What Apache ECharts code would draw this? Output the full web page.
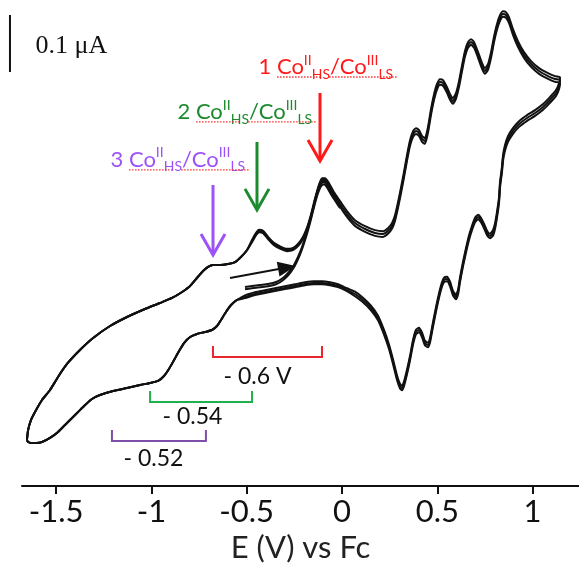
<!DOCTYPE html>
<html><head><meta charset="utf-8">
<script src="https://cdn.jsdelivr.net/npm/echarts@6/dist/echarts.min.js"></script>
<style>html,body{margin:0;padding:0;background:#fff}#c{width:579px;height:569px}</style>
</head><body><div id="c"></div>
<script>
// ---- x axis ticks ----
const tickValues = [-1.5, -1, -0.5, 0, 0.5, 1];

// ---- CV sweep: potentials (V vs Fc) ----
const forwardE = [-1.653,-1.647,-1.632,-1.605,-1.574,-1.532,-1.490,-1.443,-1.375,-1.306,-1.217,-1.128,-1.034,-0.955,-0.892,-0.839,-0.797,-0.761,-0.729,-0.703,-0.677,-0.640,-0.598,-0.561,-0.530,-0.498,-0.472,-0.451,-0.435,-0.414,-0.388,-0.357,-0.320,-0.289,-0.257,-0.231,-0.205,-0.184,-0.163,-0.142,-0.121,-0.105,-0.089,-0.068,-0.042,-0.010,0.026,0.068,0.121,0.173,0.215,0.241,0.262,0.278,0.294,0.310,0.325,0.341,0.357,0.373,0.388,0.404,0.420,0.435,0.451,0.467,0.483,0.498,0.514,0.530,0.551,0.567,0.582,0.598,0.614,0.630,0.645,0.661,0.677,0.693,0.714,0.735,0.750,0.766,0.782,0.797,0.813,0.829,0.845,0.860,0.876,0.897,0.923,0.955,0.992,1.034,1.081,1.118,1.144];
const reverseE = [1.139,1.123,1.091,1.055,1.013,0.971,0.929,0.897,0.871,0.855,0.845,0.839,0.829,0.824,0.813,0.803,0.792,0.776,0.761,0.745,0.729,0.714,0.698,0.682,0.666,0.651,0.635,0.619,0.609,0.598,0.582,0.567,0.551,0.535,0.519,0.498,0.477,0.462,0.451,0.435,0.420,0.404,0.388,0.373,0.357,0.341,0.325,0.315,0.304,0.289,0.268,0.247,0.220,0.189,0.152,0.110,0.068,0.026,-0.021,-0.063,-0.105,-0.147,-0.194,-0.247,-0.299,-0.352,-0.404,-0.456,-0.509,-0.551,-0.582,-0.609,-0.635,-0.656,-0.682,-0.719,-0.761,-0.797,-0.829,-0.855,-0.881,-0.908,-0.934,-0.965,-1.007,-1.060,-1.128,-1.201,-1.270,-1.312,-1.348,-1.390,-1.443,-1.490,-1.532,-1.574,-1.605,-1.632,-1.647,-1.653];

// ---- currents (uA, arbitrary zero) for the three cycles ----
const forwardI1 = [-0.2632,-0.2456,-0.2281,-0.2105,-0.1930,-0.1754,-0.1526,-0.1298,-0.1053,-0.0842,-0.0632,-0.0474,-0.0333,-0.0228,-0.0140,-0.0035,0.0070,0.0211,0.0333,0.0404,0.0439,0.0439,0.0456,0.0491,0.0579,0.0702,0.0880,0.1002,0.1055,0.1038,0.0932,0.0827,0.0757,0.0722,0.0739,0.0809,0.0932,0.1090,0.1318,0.1599,0.1845,0.1960,0.1960,0.1872,0.1714,0.1559,0.1383,0.1225,0.1120,0.1050,0.1032,0.1085,0.1173,0.1313,0.1541,0.1804,0.2068,0.2366,0.2629,0.2787,0.2839,0.2804,0.2699,0.2664,0.2857,0.3173,0.3436,0.3611,0.3699,0.3682,0.3559,0.3436,0.3366,0.3454,0.3664,0.3945,0.4190,0.4348,0.4401,0.4348,0.4173,0.3980,0.3892,0.3962,0.4173,0.4436,0.4664,0.4822,0.4892,0.4875,0.4787,0.4576,0.4366,0.4173,0.4015,0.3892,0.3804,0.3752,0.3734];
const forwardI2 = [-0.2632,-0.2456,-0.2281,-0.2105,-0.1930,-0.1754,-0.1526,-0.1298,-0.1053,-0.0842,-0.0632,-0.0474,-0.0333,-0.0228,-0.0140,-0.0035,0.0070,0.0211,0.0333,0.0404,0.0439,0.0439,0.0456,0.0491,0.0579,0.0702,0.0860,0.0982,0.1035,0.1018,0.0912,0.0807,0.0737,0.0702,0.0719,0.0789,0.0912,0.1070,0.1298,0.1579,0.1825,0.1930,0.1930,0.1842,0.1684,0.1509,0.1333,0.1175,0.1070,0.1000,0.0982,0.1035,0.1123,0.1263,0.1491,0.1754,0.2018,0.2316,0.2579,0.2737,0.2789,0.2754,0.2649,0.2614,0.2807,0.3123,0.3386,0.3561,0.3649,0.3632,0.3509,0.3386,0.3316,0.3404,0.3614,0.3895,0.4140,0.4298,0.4351,0.4298,0.4123,0.3930,0.3842,0.3912,0.4123,0.4386,0.4614,0.4772,0.4842,0.4825,0.4737,0.4526,0.4316,0.4123,0.3965,0.3842,0.3754,0.3702,0.3684];
const forwardI3 = [-0.2632,-0.2456,-0.2281,-0.2105,-0.1930,-0.1754,-0.1526,-0.1298,-0.1053,-0.0842,-0.0632,-0.0474,-0.0333,-0.0228,-0.0140,-0.0035,0.0070,0.0211,0.0333,0.0404,0.0439,0.0439,0.0456,0.0491,0.0579,0.0702,0.0840,0.0962,0.1015,0.0998,0.0892,0.0787,0.0717,0.0682,0.0699,0.0769,0.0892,0.1050,0.1278,0.1559,0.1805,0.1910,0.1910,0.1822,0.1664,0.1459,0.1283,0.1125,0.1020,0.0950,0.0932,0.0985,0.1073,0.1213,0.1441,0.1704,0.1968,0.2266,0.2529,0.2687,0.2739,0.2704,0.2599,0.2564,0.2757,0.3073,0.3336,0.3511,0.3599,0.3582,0.3459,0.3336,0.3266,0.3354,0.3564,0.3845,0.4090,0.4248,0.4301,0.4248,0.4073,0.3880,0.3792,0.3862,0.4073,0.4336,0.4564,0.4722,0.4792,0.4775,0.4687,0.4476,0.4266,0.4073,0.3915,0.3792,0.3704,0.3652,0.3634];
const reverseI1 = [0.3629,0.3506,0.3383,0.3261,0.3155,0.3068,0.2962,0.2839,0.2699,0.2541,0.2366,0.2155,0.1892,0.1629,0.1366,0.1173,0.1050,0.0987,0.1040,0.1163,0.1268,0.1321,0.1268,0.1128,0.0952,0.0742,0.0496,0.0215,0.0005,-0.0083,-0.0013,0.0145,0.0233,0.0215,0.0075,-0.0223,-0.0574,-0.0837,-0.0925,-0.0890,-0.0749,-0.0662,-0.0697,-0.0872,-0.1153,-0.1399,-0.1609,-0.1679,-0.1644,-0.1504,-0.1223,-0.0960,-0.0697,-0.0451,-0.0276,-0.0135,-0.0030,0.0030,0.0100,0.0135,0.0153,0.0153,0.0135,0.0100,0.0065,0.0030,-0.0005,-0.0040,-0.0093,-0.0175,-0.0263,-0.0386,-0.0526,-0.0632,-0.0702,-0.0737,-0.0772,-0.0825,-0.0930,-0.1070,-0.1228,-0.1386,-0.1509,-0.1596,-0.1632,-0.1667,-0.1719,-0.1772,-0.1842,-0.1912,-0.2018,-0.2158,-0.2333,-0.2491,-0.2596,-0.2667,-0.2684,-0.2684,-0.2667,-0.2632];
const reverseI2 = [0.3579,0.3456,0.3333,0.3211,0.3105,0.3018,0.2912,0.2789,0.2649,0.2491,0.2316,0.2105,0.1842,0.1579,0.1316,0.1123,0.1000,0.0947,0.1000,0.1123,0.1228,0.1281,0.1228,0.1088,0.0912,0.0702,0.0456,0.0175,-0.0035,-0.0123,-0.0053,0.0105,0.0193,0.0175,0.0035,-0.0263,-0.0614,-0.0877,-0.0965,-0.0930,-0.0789,-0.0702,-0.0737,-0.0912,-0.1193,-0.1439,-0.1649,-0.1719,-0.1684,-0.1544,-0.1263,-0.1000,-0.0737,-0.0491,-0.0316,-0.0175,-0.0070,0,0.0070,0.0105,0.0123,0.0123,0.0105,0.0070,0.0035,0,-0.0035,-0.0070,-0.0123,-0.0175,-0.0263,-0.0386,-0.0526,-0.0632,-0.0702,-0.0737,-0.0772,-0.0825,-0.0930,-0.1070,-0.1228,-0.1386,-0.1509,-0.1596,-0.1632,-0.1667,-0.1719,-0.1772,-0.1842,-0.1912,-0.2018,-0.2158,-0.2333,-0.2491,-0.2596,-0.2667,-0.2684,-0.2684,-0.2667,-0.2632];
const reverseI3 = [0.3529,0.3406,0.3283,0.3161,0.3055,0.2968,0.2862,0.2739,0.2599,0.2441,0.2266,0.2055,0.1792,0.1529,0.1266,0.1073,0.0950,0.0907,0.0960,0.1083,0.1188,0.1241,0.1188,0.1048,0.0872,0.0662,0.0416,0.0135,-0.0075,-0.0163,-0.0093,0.0065,0.0153,0.0135,-0.0005,-0.0303,-0.0654,-0.0917,-0.1005,-0.0970,-0.0829,-0.0742,-0.0777,-0.0952,-0.1233,-0.1479,-0.1689,-0.1759,-0.1724,-0.1584,-0.1303,-0.1040,-0.0777,-0.0531,-0.0356,-0.0215,-0.0110,-0.0020,0.0050,0.0085,0.0103,0.0103,0.0085,0.0050,0.0015,-0.0020,-0.0055,-0.0090,-0.0143,-0.0175,-0.0263,-0.0386,-0.0526,-0.0632,-0.0702,-0.0737,-0.0772,-0.0825,-0.0930,-0.1070,-0.1228,-0.1386,-0.1509,-0.1596,-0.1632,-0.1667,-0.1719,-0.1772,-0.1842,-0.1912,-0.2018,-0.2158,-0.2333,-0.2491,-0.2596,-0.2667,-0.2684,-0.2684,-0.2667,-0.2632];

// ---- initial sweep from the rest potential ----
const startE  = [-0.509,-0.472,-0.430,-0.388,-0.346,-0.310,-0.278,-0.252,-0.231,-0.210,-0.189,-0.168,-0.147,-0.126,-0.110,-0.094,-0.079,-0.058,-0.031,-0.010];
const startIa = [0.0053,0.0070,0.0088,0.0105,0.0140,0.0211,0.0316,0.0439,0.0579,0.0754,0.0965,0.1211,0.1491,0.1737,0.1860,0.1895,0.1842,0.1719,0.1579,0.1474];
const startIb = [0.0013,0.0030,0.0048,0.0065,0.0100,0.0171,0.0276,0.0399,0.0539,0.0714,0.0925,0.1171,0.1451,0.1697,0.1820,0.1855,0.1802,0.1679,0.1539,0.1434];

// ---- scan-direction arrow ----
const scanArrowE = [-0.5876, -0.2886];
const scanArrowI = [0.0211, 0.0393];

// ---- redox couple annotations ----
const coupleNumbers = ['1', '2', '3'];
const coupleColors = ['#ff1a1a', '#1c8a2e', '#9d52f7'];
const coupleArrowE = [-0.1154, -0.4460, -0.6768];
const coupleArrowTop = [0.3456, 0.2596, 0.1842];
const coupleArrowTip = [0.2263, 0.1404, 0.0614];
const coupleLabelE = [-0.4407, -0.8657, -1.2172];
const coupleLabelI = [0.3912, 0.3123, 0.2281];
// spell-check squiggles under the two "Co" words of each label (offsets from label start)
const squiggleSpans = [[0.100, 0.325], [0.373, 0.729]];
const squiggleDrop = 0.0175;

// ---- peak separations ----
const splitLabels = ['- 0.6 V', '- 0.54', '- 0.52'];
const splitColors = ['#e8262d', '#22b04c', '#7d4fa8'];
const splitFrom = [-0.677, -1.007, -1.207];
const splitTo = [-0.105, -0.472, -0.714];
const splitLevel = [-0.1175, -0.1965, -0.2649];
const splitTop = [-0.0982, -0.1772, -0.2456];
const splitLabelE = [-0.624, -0.944, -1.149];
const splitLabelI = [-0.1526, -0.2228, -0.2965];

// ---- current scale bar (0.1 uA) ----
const scaleBarE = -1.742;
const scaleBarI = [0.3825, 0.4825];
const scaleBarLabel = '0.1 μA';
const scaleLabelPos = [-1.6107, 0.4281];

const zip = (E, I) => E.map((e, i) => [e, I[i]]);
const cycles = [
  zip(forwardE, forwardI1).concat(zip(reverseE, reverseI1)),
  zip(forwardE, forwardI2).concat(zip(reverseE, reverseI2)),
  zip(forwardE, forwardI3).concat(zip(reverseE, reverseI3))
];

const SANS = 'Lato';
const INK = '#111';
function lineS(data, color, width, extra) {
  return Object.assign({
    type: 'line', data, showSymbol: false, symbol: 'none', clip: false, silent: true,
    animation: false, lineStyle: { color, width, join: 'miter', cap: 'butt' }
  }, extra || {});
}

const series = [];
cycles.forEach(c => series.push(lineS(c, INK, 2, { smooth: 0.2 })));
series.push(lineS(zip(startE, startIa), INK, 2, { smooth: 0.2 }));
series.push(lineS(zip(startE, startIb), INK, 2, { smooth: 0.2 }));
// scale bar lives in a second, full-width hidden grid so it can sit left of the axis start
series.push(lineS([[scaleBarE, scaleBarI[0]], [scaleBarE, scaleBarI[1]]], INK, 2, { xAxisIndex: 1, yAxisIndex: 1 }));

const headW = 0.063, headH = 0.037;
coupleNumbers.forEach((n, k) => {
  const c = coupleColors[k], e = coupleArrowE[k];
  series.push(lineS([[e, coupleArrowTop[k]], [e, coupleArrowTip[k] + 0.004]], c, 3));
  series.push(lineS([[e - headW, coupleArrowTip[k] + headH], [e, coupleArrowTip[k]], [e + headW, coupleArrowTip[k] + headH]], c, 3));
  squiggleSpans.forEach(s => {
    const y = coupleLabelI[k] - squiggleDrop;
    series.push(lineS([[coupleLabelE[k] + s[0], y], [coupleLabelE[k] + s[1], y]], '#ff3030', 1.3, { lineStyle: { color: '#ff3030', width: 1.3, type: [1.5, 1.5] } }));
  });
});
splitLabels.forEach((t, k) => {
  series.push(lineS([[splitFrom[k], splitTop[k]], [splitFrom[k], splitLevel[k]], [splitTo[k], splitLevel[k]], [splitTo[k], splitTop[k]]], splitColors[k], 2));
});

const textItems = [];
coupleNumbers.forEach((n, k) => {
  const c = coupleColors[k];
  textItems.push({
    value: [coupleLabelE[k], coupleLabelI[k]],
    label: {
      formatter: '{n|' + n + ' Co}{sup|II}{sub|HS}{n|/Co}{sup|III}{sub|LS}',
      rich: {
        n: { fontFamily: SANS, fontSize: 22, color: c, lineHeight: 28 },
        sup: { fontFamily: SANS, fontSize: 14, color: c, lineHeight: 14, verticalAlign: 'top' },
        sub: { fontFamily: SANS, fontSize: 14, color: c, lineHeight: 25, verticalAlign: 'bottom' }
      }
    }
  });
});
splitLabels.forEach((t, k) => {
  textItems.push({ value: [splitLabelE[k], splitLabelI[k]], label: { formatter: t, fontFamily: SANS, fontSize: 23, color: INK } });
});
textItems.push({ value: scaleLabelPos, label: { formatter: scaleBarLabel, fontFamily: 'Liberation Serif', fontSize: 26, color: INK } });

series.push({
  type: 'scatter', data: textItems, symbol: 'circle', symbolSize: 1, silent: true, animation: false, clip: false,
  itemStyle: { color: 'rgba(0,0,0,0)', opacity: 1 },
  label: { show: true, position: 'right', distance: 0, opacity: 1 },
  markLine: {
    silent: true, animation: false, symbol: ['none', 'triangle'], symbolSize: [15, 18],
    lineStyle: { color: INK, width: 2, type: 'solid' }, itemStyle: { color: INK },
    label: { show: false },
    data: [[{ coord: [scanArrowE[0], scanArrowI[0]] }, { coord: [scanArrowE[1], scanArrowI[1]] }]]
  }
});

const chart = echarts.init(document.getElementById('c'));
chart.setOption({
  animation: false,
  backgroundColor: '#fff',
  textStyle: { fontFamily: SANS },
  grid: [
    { left: 22, right: 0, top: 0, bottom: 83, containLabel: false, outerBoundsMode: 'none' },
    { left: 0, right: 0, top: 0, bottom: 83, containLabel: false, outerBoundsMode: 'none' }
  ],
  xAxis: [{
    type: 'value', min: -1.679, max: 1.2435, gridIndex: 0,
    axisLine: { onZero: false, lineStyle: { color: INK, width: 2 } },
    axisTick: { customValues: tickValues, length: 8, lineStyle: { color: INK, width: 2 } },
    axisLabel: { customValues: tickValues, fontSize: 31, color: INK, margin: 10, fontFamily: SANS, hideOverlap: false },
    splitLine: { show: false },
    name: 'E (V) vs Fc', nameLocation: 'middle', nameGap: 46,
    nameTextStyle: { fontSize: 31, color: '#222', fontFamily: SANS }
  }, {
    type: 'value', min: -1.7943, max: 1.2435, gridIndex: 1, show: false
  }],
  yAxis: [
    { type: 'value', min: -0.34386, max: 0.50877, show: false, gridIndex: 0 },
    { type: 'value', min: -0.34386, max: 0.50877, show: false, gridIndex: 1 }
  ],
  series
});
</script></body></html>
